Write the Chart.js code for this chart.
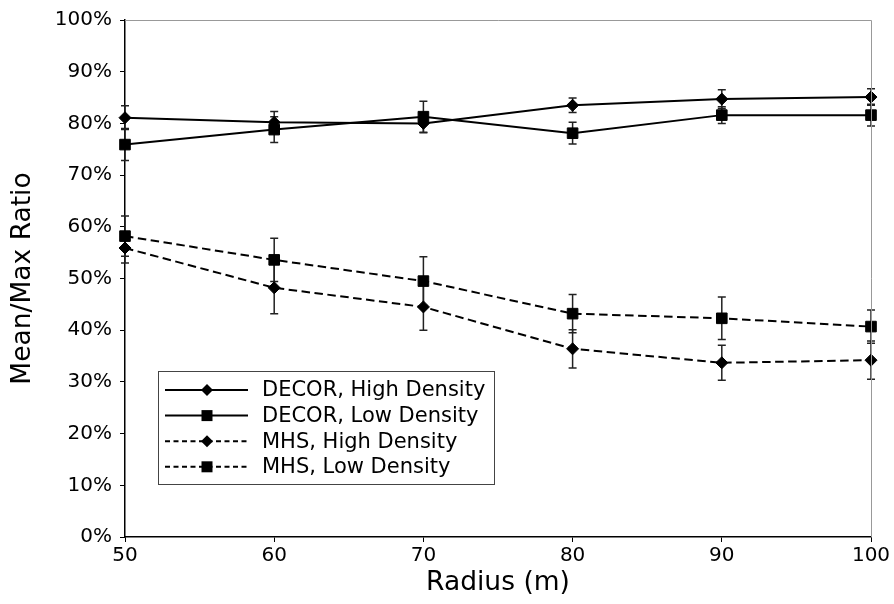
<!DOCTYPE html>
<html>
<head>
<meta charset="utf-8">
<script src="https://cdn.jsdelivr.net/npm/chart.js@4/dist/chart.umd.min.js"></script>
<style>
  body { margin: 0; background: #fff; }
  #wrap { width: 894px; height: 604px; }
</style>
</head>
<body>
<div id="wrap"><canvas id="chart" width="894" height="604"></canvas></div>
<script>
// data
const radius = [50, 60, 70, 80, 90, 100];
const decorHigh = [81.1, 80.2, 80.0, 83.5, 84.7, 85.1];
const decorHighErr = [2.3, 2.1, 1.8, 1.4, 1.8, 1.6];
const decorLow = [75.9, 78.8, 81.3, 78.1, 81.6, 81.6];
const decorLowErr = [3.1, 2.5, 3.0, 2.1, 1.6, 2.1];
const mhsHigh = [55.9, 48.2, 44.5, 36.4, 33.7, 34.2];
const mhsHighErr = [2.9, 5.0, 4.5, 3.7, 3.4, 3.7];
const mhsLow = [58.2, 53.6, 49.5, 43.2, 42.3, 40.7];
const mhsLowErr = [3.9, 4.2, 4.7, 3.7, 4.1, 3.2];

const seriesNames = ["DECOR, High Density", "DECOR, Low Density", "MHS, High Density", "MHS, Low Density"];

const FONT = "'DejaVu Sans', sans-serif";
const DASH = [8.5, 4.5];

function makeSet(label, values, errors, style, dashed) {
  return {
    label: label,
    data: radius.map((r, i) => ({ x: r, y: values[i] })),
    errors: errors,
    borderColor: "#000",
    backgroundColor: "#000",
    borderWidth: 2,
    borderDash: dashed ? DASH : [],
    pointStyle: style,
    pointRadius: style === "rect" ? 7.5 : 6,
    pointBorderWidth: 1,
    pointHoverRadius: style === "rect" ? 7.5 : 6,
    tension: 0,
    clip: false,
    dashed: dashed
  };
}

// error bars with caps, drawn under the markers
const errorBars = {
  id: "errorBars",
  beforeDatasetsDraw(chart) {
    const ctx = chart.ctx;
    const xs = chart.scales.x, ys = chart.scales.y;
    ctx.save();
    ctx.strokeStyle = "#222";
    ctx.lineWidth = 1.5;
    chart.data.datasets.forEach((ds) => {
      ds.data.forEach((p, i) => {
        const e = ds.errors[i];
        const px = xs.getPixelForValue(p.x);
        const top = ys.getPixelForValue(p.y + e);
        const bot = ys.getPixelForValue(p.y - e);
        ctx.beginPath();
        ctx.moveTo(px, top); ctx.lineTo(px, bot);
        ctx.moveTo(px - 4, top); ctx.lineTo(px + 4, top);
        ctx.moveTo(px - 4, bot); ctx.lineTo(px + 4, bot);
        ctx.stroke();
      });
    });
    ctx.restore();
  }
};

// grey top/right frame + legend box inside the plot
const frameAndLegend = {
  id: "frameAndLegend",
  afterDraw(chart) {
    const ctx = chart.ctx;
    const a = chart.chartArea;
    ctx.save();
    ctx.strokeStyle = "#999";
    ctx.lineWidth = 1;
    ctx.beginPath();
    ctx.moveTo(a.left, a.top + 0.5);
    ctx.lineTo(a.right + 0.5, a.top + 0.5);
    ctx.lineTo(a.right + 0.5, a.bottom);
    ctx.stroke();

    // legend
    const bx = 158.5, by = 371.5, bw = 336, bh = 113;
    ctx.fillStyle = "rgba(255,255,255,0.85)";
    ctx.fillRect(bx, by, bw, bh);
    ctx.strokeStyle = "#444";
    ctx.strokeRect(bx, by, bw, bh);
    ctx.font = "21px " + FONT;
    ctx.textBaseline = "middle";
    ctx.textAlign = "left";
    chart.data.datasets.forEach((ds, i) => {
      const ry = 390 + i * 25.6;
      ctx.strokeStyle = "#000";
      ctx.lineWidth = 2;
      ctx.setLineDash(ds.dashed ? [5, 3.5] : []);
      ctx.beginPath();
      ctx.moveTo(165, ry); ctx.lineTo(248, ry);
      ctx.stroke();
      ctx.setLineDash([]);
      ctx.fillStyle = "#000";
      ctx.beginPath();
      if (ds.pointStyle === "rect") {
        ctx.rect(207 - 5.5, ry - 5.5, 11, 11);
      } else {
        ctx.moveTo(207 - 6, ry); ctx.lineTo(207, ry - 6);
        ctx.lineTo(207 + 6, ry); ctx.lineTo(207, ry + 6);
        ctx.closePath();
      }
      ctx.fill();
      ctx.fillStyle = "#000";
      ctx.fillText(seriesNames[i], 262, ry + 1);
    });
    ctx.restore();
  }
};

const ctx = document.getElementById("chart").getContext("2d");
const chart = new Chart(ctx, {
  type: "line",
  data: {
    datasets: [
      makeSet(seriesNames[0], decorHigh, decorHighErr, "rectRot", false),
      makeSet(seriesNames[1], decorLow, decorLowErr, "rect", false),
      makeSet(seriesNames[2], mhsHigh, mhsHighErr, "rectRot", true),
      makeSet(seriesNames[3], mhsLow, mhsLowErr, "rect", true)
    ]
  },
  options: {
    responsive: false,
    animation: false,
    layout: { padding: { left: 0, top: 18, right: 23, bottom: 0 } },
    plugins: {
      legend: { display: false },
      tooltip: { enabled: false }
    },
    scales: {
      x: {
        type: "linear",
        min: 50,
        max: 100,
        afterFit: (s) => { s.height = 67; },
        ticks: { stepSize: 10, color: "#000", font: { family: FONT, size: 20 }, padding: 2 },
        grid: { drawOnChartArea: false, drawTicks: true, tickLength: 5, color: "#000" },
        border: { color: "#000", width: 1.5 },
        title: { display: true, text: "Radius (m)", color: "#000", font: { family: FONT, size: 26.5 }, padding: { top: 0, bottom: 5 } }
      },
      y: {
        min: 0,
        max: 100,
        afterFit: (s) => { s.width = 125; },
        ticks: { stepSize: 10, color: "#000", font: { family: FONT, size: 20 }, padding: 8, callback: (v) => v + "%" },
        grid: { drawOnChartArea: false, drawTicks: true, tickLength: 5, color: "#000" },
        border: { color: "#000", width: 1.5 },
        title: { display: true, text: "Mean/Max Ratio", color: "#000", font: { family: FONT, size: 26.5 }, padding: { top: 7, bottom: 0 } }
      }
    }
  },
  plugins: [errorBars, frameAndLegend]
});
</script>
</body>
</html>
